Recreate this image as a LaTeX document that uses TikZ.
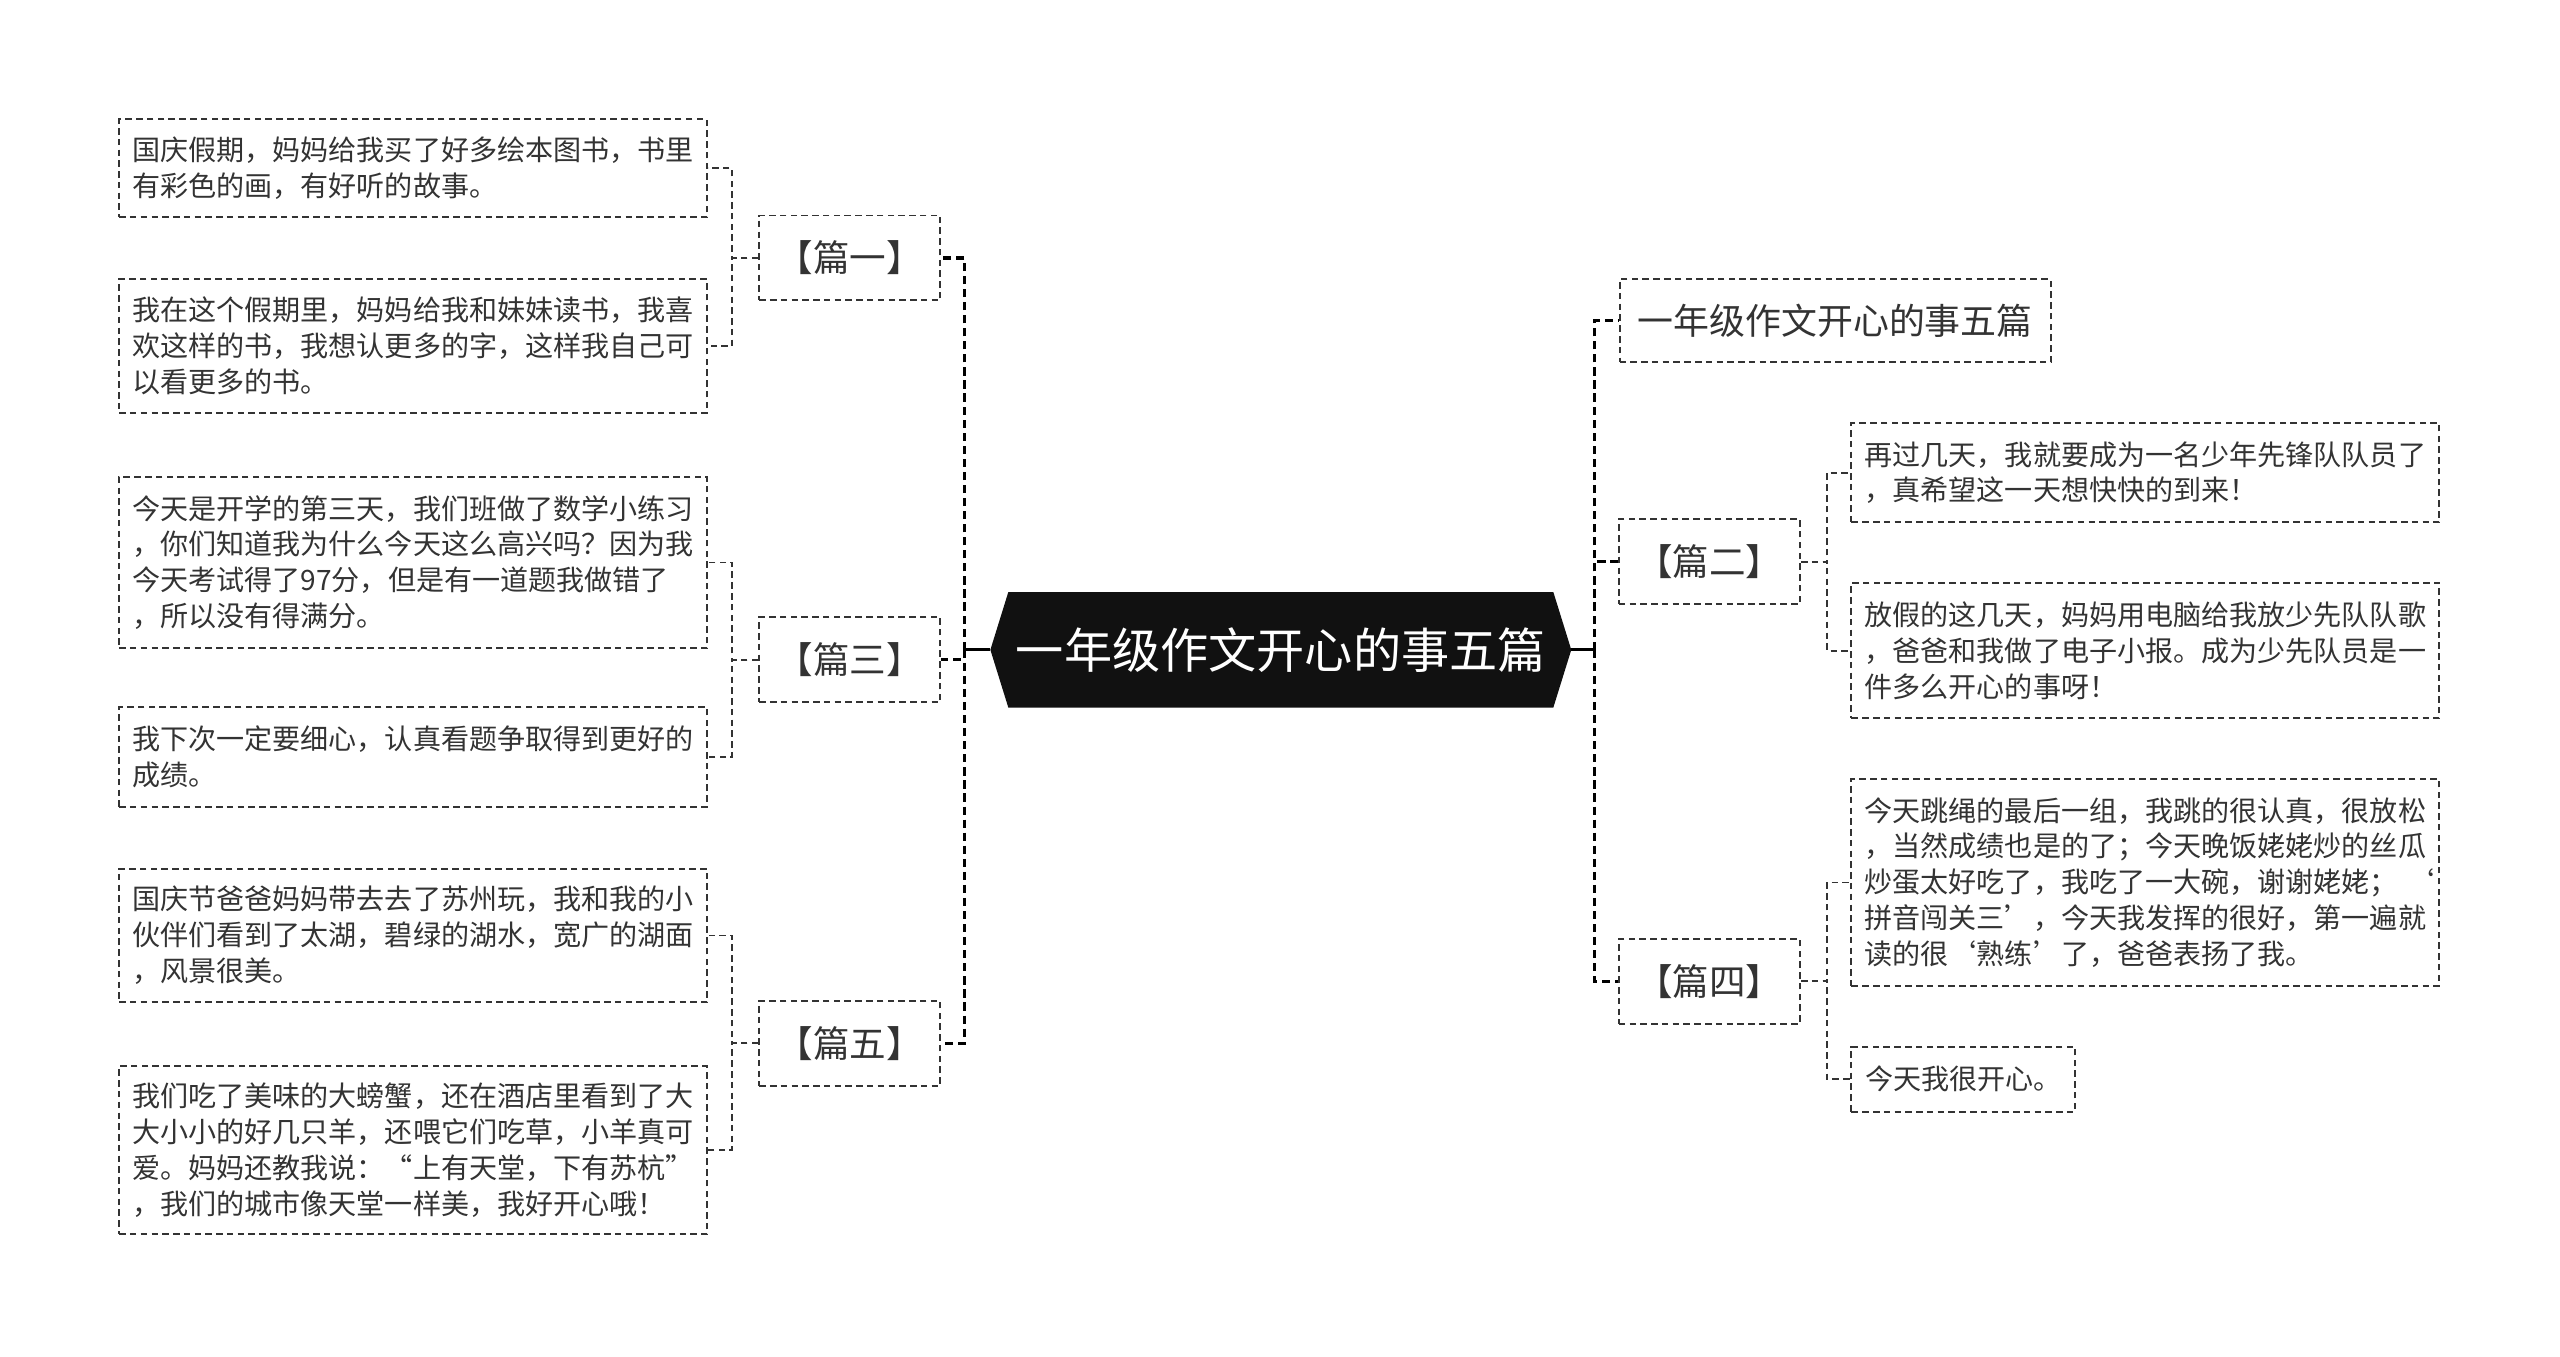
\documentclass[tikz,border=0pt]{standalone}
\usepackage{fontspec}
\newfontfamily\cjk{Noto Sans CJK SC}
\usetikzlibrary{backgrounds}
\definecolor{inkgray}{HTML}{333333}
\definecolor{rootblack}{HTML}{111111}

\begin{document}
\begin{tikzpicture}[x=0.5pt, y=-0.5pt,
  box/.style={draw=inkgray, line width=0.6pt, dash pattern=on 2pt off 1.3pt, text=inkgray},
  leaf/.style={box, align=left, text width=172pt, inner xsep=4pt, inner ysep=0pt, font=\cjk\fontsize{8.6pt}{11pt}\selectfont},
  part/.style={box, minimum width=55.5pt, minimum height=26pt, inner sep=0pt, font=\cjk\fontsize{11.2pt}{13pt}\selectfont},
  root/.style={text=white, minimum width=166.5pt, minimum height=35pt, inner sep=0pt, font=\cjk\fontsize{14.75pt}{17pt}\selectfont},
  link/.style={draw=inkgray, line width=0.55pt, dash pattern=on 2pt off 1.3pt},
  trunk/.style={draw=black, line width=1pt, dash pattern=on 2.5pt off 1.5pt}]
  \useasboundingbox (0,0) rectangle (1568,831);

  % centre
  \node[root] (root) at (784.5,398) {一年级作文开心的事五篇};
  \begin{scope}[on background layer]
    \fill[rootblack] (root.north west) -- (root.north east) -- ([xshift=5.5pt]root.east)
      -- (root.south east) -- (root.south west) -- ([xshift=-5.5pt]root.west) -- cycle;
  \end{scope}

  % left side
  \node[part] (p1) at (520.5,158) {【篇一】};
  \node[part] (p3) at (520.5,404) {【篇三】};
  \node[part] (p5) at (520.5,639) {【篇五】};

  \node[leaf, minimum height=30pt] (l1a) at (253,103) {国庆假期，妈妈给我买了好多绘本图书，书里\\有彩色的画，有好听的故事。};
  \node[leaf, minimum height=41pt] (l1b) at (253,212) {我在这个假期里，妈妈给我和妹妹读书，我喜\\欢这样的书，我想认更多的字，这样我自己可\\以看更多的书。};
  \node[leaf, minimum height=52.5pt] (l3a) at (253,344.5) {今天是开学的第三天，我们班做了数学小练习\\，你们知道我为什么今天这么高兴吗？因为我\\今天考试得了97分，但是有一道题我做错了\\，所以没有得满分。};
  \node[leaf, minimum height=30.5pt] (l3b) at (253,463.5) {我下次一定要细心，认真看题争取得到更好的\\成绩。};
  \node[leaf, minimum height=41pt] (l5a) at (253,573) {国庆节爸爸妈妈带去去了苏州玩，我和我的小\\伙伴们看到了太湖，碧绿的湖水，宽广的湖面\\，风景很美。};
  \node[leaf, minimum height=51.5pt] (l5b) at (253,704.5) {我们吃了美味的大螃蟹，还在酒店里看到了大\\大小小的好几只羊，还喂它们吃草，小羊真可\\爱。妈妈还教我说：“上有天堂，下有苏杭”\\，我们的城市像天堂一样美，我好开心哦！};

  % right side
  \node[box, minimum width=132pt, minimum height=25.5pt, inner sep=0pt, font=\cjk\fontsize{11pt}{13pt}\selectfont] (t0) at (1124,196.5) {一年级作文开心的事五篇};
  \node[part] (p2) at (1047,344) {【篇二】};
  \node[part] (p4) at (1047,601) {【篇四】};

  \node[leaf, minimum height=30.5pt] (l2a) at (1314,289.5) {再过几天，我就要成为一名少年先锋队队员了\\，真希望这一天想快快的到来！};
  \node[leaf, minimum height=41.5pt] (l2b) at (1314,398.5) {放假的这几天，妈妈用电脑给我放少先队队歌\\，爸爸和我做了电子小报。成为少先队员是一\\件多么开心的事呀！};
  \node[leaf, minimum height=63.5pt] (l4a) at (1314,540.5) {今天跳绳的最后一组，我跳的很认真，很放松\\，当然成绩也是的了；今天晚饭姥姥炒的丝瓜\\炒蛋太好吃了，我吃了一大碗，谢谢姥姥；\rlap{\hspace{2.5pt}‘}\\拼音闯关三’，今天我发挥的很好，第一遍就\\读的很‘熟练’了，爸爸表扬了我。};
  \node[leaf, text width=, minimum width=68.5pt, minimum height=20pt] (l4b) at (1202.5,661) {今天我很开心。};

  % connectors
  \draw[line width=1pt] ([xshift=-5.5pt]root.west) -- ++(-16,0) coordinate (lhub);
  \draw[line width=1pt] ([xshift=5.5pt]root.east) -- ++(14,0) coordinate (rhub);
  \foreach \p in {p1,p3,p5} \draw[trunk] (lhub) |- (\p.east);
  \foreach \p in {t0,p2,p4} \draw[trunk] (rhub) |- (\p.west);

  \foreach \p/\l in {p1/l1a, p1/l1b, p3/l3a, p3/l3b, p5/l5a, p5/l5b}
    \draw[link] (\p.west) -- ++(-16,0) |- (\l.east);
  \foreach \p/\l in {p2/l2a, p2/l2b, p4/l4a, p4/l4b}
    \draw[link] (\p.east) -- ++(16,0) |- (\l.west);
\end{tikzpicture}
\end{document}
